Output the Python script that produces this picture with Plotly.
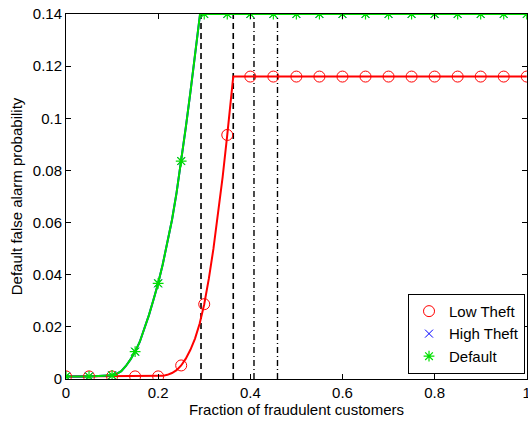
import plotly.graph_objects as go

# ---- data ----
marker_x = [round(0.05 * i, 2) for i in range(21)]

low_marker_y = [0.001, 0.001, 0.001, 0.001, 0.001, 0.0052, 0.0287, 0.0936,
                0.116, 0.116, 0.116, 0.116, 0.116, 0.116, 0.116, 0.116,
                0.116, 0.116, 0.116, 0.116, 0.116]
default_marker_y = [0.001, 0.001, 0.0014, 0.0105, 0.0367, 0.0836, 0.14, 0.14,
                    0.14, 0.14, 0.14, 0.14, 0.14, 0.14, 0.14, 0.14,
                    0.14, 0.14, 0.14, 0.14, 0.14]
high_marker_y = list(default_marker_y)

low_curve_x = [0, 0.05, 0.1, 0.15, 0.2, 0.21, 0.22, 0.23, 0.24, 0.25, 0.26, 0.27,
               0.28, 0.29, 0.30, 0.31, 0.32, 0.33, 0.34, 0.35, 0.363, 1.0]
low_curve_y = [0.001, 0.001, 0.001, 0.001, 0.001, 0.0012, 0.0016, 0.0023, 0.0034,
               0.0052, 0.0078, 0.0112, 0.0155, 0.0212, 0.0287, 0.0385, 0.050,
               0.063, 0.0775, 0.0936, 0.116, 0.116]

default_curve_x = [0, 0.05, 0.10, 0.11, 0.12, 0.13, 0.14, 0.15, 0.16, 0.17, 0.18,
                   0.19, 0.20, 0.21, 0.22, 0.23, 0.24, 0.25, 0.26, 0.27, 0.28,
                   0.291, 1.0]
default_curve_y = [0.001, 0.001, 0.0014, 0.0020, 0.0030, 0.0050, 0.0075, 0.0105,
                   0.0142, 0.0190, 0.0245, 0.0305, 0.0367, 0.0440, 0.0520, 0.0610,
                   0.0715, 0.0836, 0.0965, 0.110, 0.1245, 0.140, 0.140]
high_curve_x = list(default_curve_x)
high_curve_y = list(default_curve_y)

dashed_x = [0.293, 0.363]
dashdot_x = [0.408, 0.459]

x_ticks = [0, 0.2, 0.4, 0.6, 0.8, 1.0]
x_ticktext = ["0", "0.2", "0.4", "0.6", "0.8", "1"]
y_ticks = [0, 0.02, 0.04, 0.06, 0.08, 0.10, 0.12, 0.14]
y_ticktext = ["0", "0.02", "0.04", "0.06", "0.08", "0.1", "0.12", "0.14"]

RED = "#ff0000"
BLUE = "#0000ff"
GREEN = "#00e000"
FONT = "Liberation Sans, Arial, Helvetica, sans-serif"

fig = go.Figure()

# vertical reference lines (drawn first so curves are above)
for xv in dashed_x:
    fig.add_trace(go.Scatter(x=[xv, xv], y=[0, 0.14], mode="lines",
                             line=dict(color="black", width=1.6, dash="6px,4px"),
                             showlegend=False, hoverinfo="skip"))
for xv in dashdot_x:
    fig.add_trace(go.Scatter(x=[xv, xv], y=[0, 0.14], mode="lines",
                             line=dict(color="black", width=1.4, dash="6px,3px,1px,3px"),
                             showlegend=False, hoverinfo="skip"))

# curves
fig.add_trace(go.Scatter(x=low_curve_x, y=low_curve_y, mode="lines",
                         line=dict(color=RED, width=2), showlegend=False))
fig.add_trace(go.Scatter(x=high_curve_x, y=high_curve_y, mode="lines",
                         line=dict(color=BLUE, width=2), showlegend=False))
fig.add_trace(go.Scatter(x=default_curve_x, y=default_curve_y, mode="lines",
                         line=dict(color=GREEN, width=2), showlegend=False))

# markers (legend entries)
fig.add_trace(go.Scatter(x=marker_x, y=low_marker_y, mode="markers", name="Low Theft",
                         marker=dict(symbol="circle-open", size=11,
                                     line=dict(color=RED, width=1), color=RED)))
fig.add_trace(go.Scatter(x=marker_x, y=high_marker_y, mode="markers", name="High Theft",
                         marker=dict(symbol="x-thin-open", size=8,
                                     line=dict(color=BLUE, width=1), color=BLUE)))
fig.add_trace(go.Scatter(x=marker_x, y=default_marker_y, mode="markers", name="Default",
                         marker=dict(symbol="asterisk-open", size=9,
                                     line=dict(color=GREEN, width=1.2), color=GREEN)))

fig.update_layout(
    width=528, height=423,
    margin=dict(l=66, r=1, t=14, b=44, autoexpand=False),
    paper_bgcolor="white", plot_bgcolor="white",
    font=dict(family=FONT, size=15, color="black"),
    legend=dict(x=0.9957, y=0.014, xanchor="right", yanchor="bottom",
                bgcolor="white", bordercolor="black", borderwidth=1,
                font=dict(size=15), tracegroupgap=0, itemwidth=30),
)
fig.update_xaxes(range=[0, 1.0005], tickvals=x_ticks, ticktext=x_ticktext,
                 ticklabeloverflow="allow", automargin=False,
                 showgrid=False, zeroline=False, showline=True, linecolor="black",
                 linewidth=1, mirror="ticks", ticks="inside", ticklen=5,
                 tickcolor="black",
                 title=dict(text="Fraction of fraudulent customers", standoff=4,
                            font=dict(size=15)))
fig.update_yaxes(range=[0, 0.14], tickvals=y_ticks, ticktext=y_ticktext,
                 automargin=False,
                 showgrid=False, zeroline=False, showline=True, linecolor="black",
                 linewidth=1, mirror="ticks", ticks="inside", ticklen=5,
                 tickcolor="black",
                 title=dict(text="Default false alarm probability", standoff=6,
                            font=dict(size=15)))

fig.write_html("out.html")
